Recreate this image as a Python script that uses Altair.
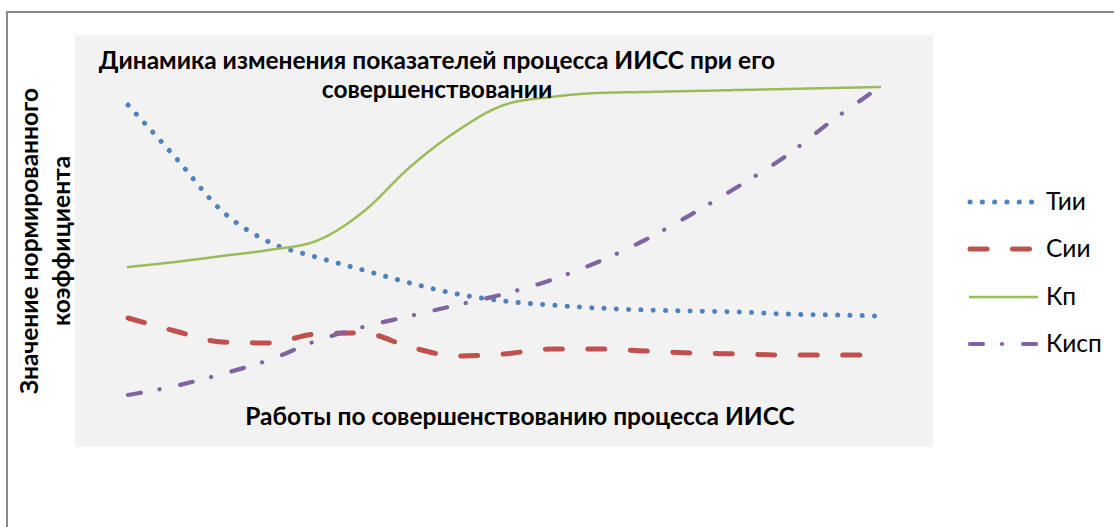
import altair as alt
import pandas as pd

# Work steps (evenly spaced categories along the x axis)
steps = list(range(17))

# Normalized coefficient values (arbitrary units, 0..412)
t_ii = [342, 290, 236, 205, 190, 177, 164, 153, 146, 142, 139, 137, 136, 135, 133, 132, 131]
s_ii = [129, 116, 105, 104, 113, 114, 100, 91, 93, 98, 98, 96, 94, 93, 92, 92, 92]
k_p = [180, 185, 191, 197, 206, 235, 280, 316, 342, 350, 354, 355, 356, 357, 358, 359, 360]
k_isp = [52, 61, 73, 87, 106, 120, 131, 142, 153, 167, 185, 207, 233, 261, 291, 327, 360]

series_names = ["Тии", "Сии", "Кп", "Кисп"]
series_values = [t_ii, s_ii, k_p, k_isp]
colors = ["#4F81BD", "#C0504D", "#9BBB59", "#8064A2"]
dashes = [[0.1, 12.2], [17, 25.5], [1, 0], [13, 19, 0.1, 21]]
widths = [5, 5, 2.5, 4.2]

title_lines = ["Динамика изменения показателей процесса ИИСС при его", "совершенствовании"]
x_title = "Работы по совершенствованию процесса ИИСС"
y_title_lines = ["Значение нормированного", "коэффициента"]

FONT = "Lato"
FS = 24.5

rows = []
for name, vals in zip(series_names, series_values):
    for s, v in zip(steps, vals):
        rows.append({"step": s, "value": v, "series": name})
df = pd.DataFrame(rows)

X = alt.X("step:Q", scale=alt.Scale(domain=[-1.128, 17.128], nice=False, zero=False), axis=None)
Y = alt.Y("value:Q", scale=alt.Scale(domain=[0, 412], nice=False, zero=False), axis=None)

base = alt.Chart(df)
layers = []

# outer frame
frame = base.mark_rect(fill=None, stroke="#8A8A8A", strokeWidth=1.2).encode(
    x=alt.value(-68), x2=alt.value(1060), y=alt.value(-23), y2=alt.value(520)
)
layers.append(frame)

for i, (name, color, dash, w) in enumerate(zip(series_names, colors, dashes, widths)):
    line = base.transform_filter(alt.datum.series == name).mark_line(
        interpolate="monotone", color=color, strokeDash=dash, strokeWidth=w, strokeCap="round"
    ).encode(x=X, y=Y)
    layers.append(line)

# legend
leg_y = [167, 214, 262, 309]
for i, (name, color, dash, w) in enumerate(zip(series_names, colors, dashes, widths)):
    rule = alt.Chart(pd.DataFrame({"series": [name]})).mark_rule(
        color=color, strokeDash=dash, strokeWidth=w, strokeCap="round"
    ).encode(x=alt.value(895), x2=alt.value(962), y=alt.value(leg_y[i]))
    txt = alt.Chart(pd.DataFrame({"series": [name]})).mark_text(
        align="left", baseline="middle", font=FONT, fontSize=FS, color="#000000"
    ).encode(x=alt.value(971), y=alt.value(leg_y[i] + 1), text="series:N")
    layers += [rule, txt]

# titles
for i, t in enumerate(title_lines):
    layers.append(alt.Chart(pd.DataFrame({"t": [t]})).mark_text(
        align="center", baseline="alphabetic", font=FONT, fontSize=FS, fontWeight="bold", color="#000000"
    ).encode(x=alt.value(362), y=alt.value(34 + 29 * i), text="t:N"))

layers.append(alt.Chart(pd.DataFrame({"t": [x_title]})).mark_text(
    align="center", baseline="alphabetic", font=FONT, fontSize=FS, fontWeight="bold", color="#000000"
).encode(x=alt.value(445), y=alt.value(390), text="t:N"))

for i, t in enumerate(y_title_lines):
    layers.append(alt.Chart(pd.DataFrame({"t": [t]})).mark_text(
        align="center", baseline="alphabetic", font=FONT, fontSize=FS, fontWeight="bold", color="#000000", angle=270
    ).encode(x=alt.value(-37 + 32 * i), y=alt.value(206), text="t:N"))

chart = alt.layer(*layers).properties(
    width=858, height=412,
    autosize=alt.AutoSizeParams(type="none"),
    padding={"left": 75, "top": 35, "right": 181, "bottom": 80},
    background="#FFFFFF",
).configure_view(fill="#F2F2F2", stroke=None)

chart.save("out.html", embed_options={"renderer": "svg", "actions": False})
